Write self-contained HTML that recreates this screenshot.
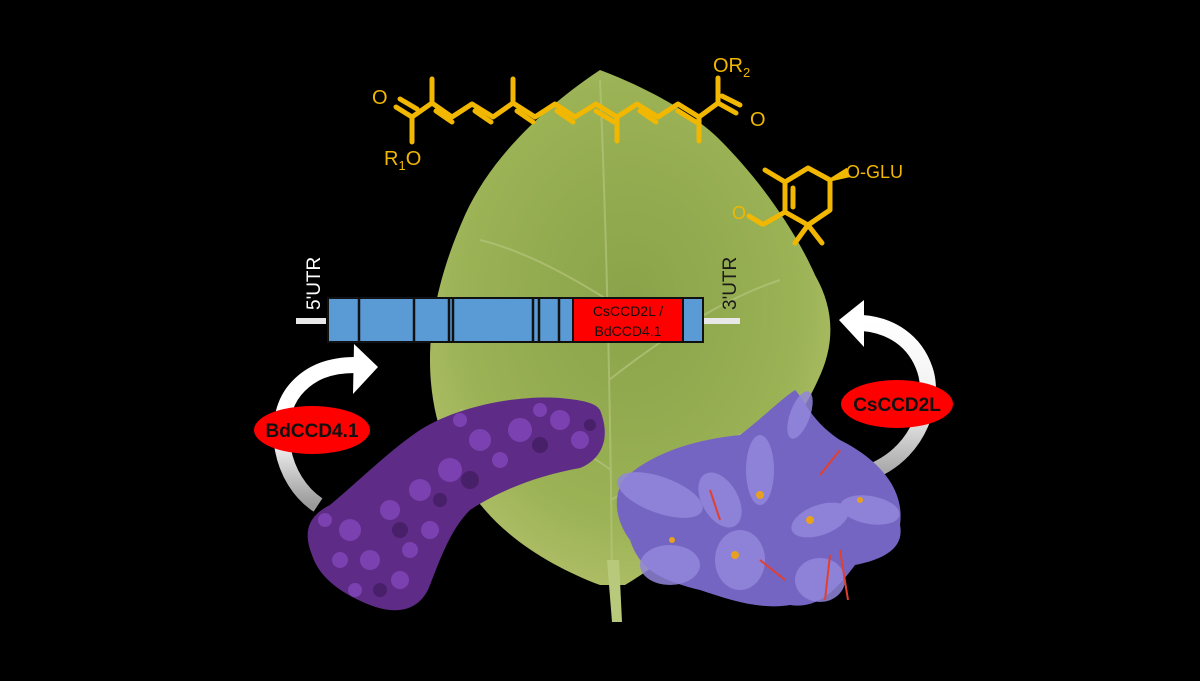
<!DOCTYPE html>
<html><head><meta charset="utf-8"><style>
html,body{margin:0;padding:0;background:#000;}
svg{display:block;}
text{font-family:"Liberation Sans",sans-serif;}
</style></head><body>
<svg width="1200" height="681" viewBox="0 0 1200 681" xmlns="http://www.w3.org/2000/svg">
<defs>
<radialGradient id="leaf" cx="0.5" cy="0.45" r="0.6">
<stop offset="0" stop-color="#8aa34a"/><stop offset="0.7" stop-color="#9bb255"/><stop offset="1" stop-color="#b2c06a"/>
</radialGradient>
<linearGradient id="arrL" x1="0" y1="1" x2="0" y2="0"><stop offset="0" stop-color="#9a9a9a"/><stop offset="0.5" stop-color="#fff"/><stop offset="1" stop-color="#fff"/></linearGradient>
<linearGradient id="arrR" x1="0" y1="1" x2="0" y2="0"><stop offset="0" stop-color="#aaa"/><stop offset="0.4" stop-color="#eee"/><stop offset="1" stop-color="#fff"/></linearGradient>
</defs>
<rect width="1200" height="681" fill="#000"/>

<!-- leaf -->
<path d="M600,70 C640,85 690,110 720,140 C760,180 795,230 815,275 C835,310 835,345 818,380 C800,420 765,470 720,510 C685,545 650,570 625,585 L600,585 C560,570 515,545 485,510 C450,470 430,420 430,360 C430,310 445,260 465,215 C490,160 540,110 600,70 Z" fill="url(#leaf)"/>
<g stroke="#b4c57c" stroke-width="2" fill="none" opacity="0.7">
<path d="M600,80 C605,200 610,350 612,580"/>
<path d="M608,300 C560,270 520,250 480,240"/>
<path d="M609,380 C660,340 720,300 780,280"/>
<path d="M611,470 C570,440 520,420 460,410"/>
<path d="M611,500 C660,470 720,440 780,420"/>
</g>
<path d="M607,560 L612,622 L622,622 L619,560 Z" fill="#b8c97c"/>

<!-- gene construct -->
<rect x="296" y="318" width="30" height="6" fill="#e8e8e8"/>
<rect x="702" y="318" width="38" height="6" fill="#e8e8e8"/>
<rect x="328" y="298" width="375" height="44" fill="#5b9bd5" stroke="#111" stroke-width="2"/>
<g stroke="#111" stroke-width="2.5">
<line x1="359" y1="298" x2="359" y2="342"/>
<line x1="414" y1="298" x2="414" y2="342"/>
<line x1="449" y1="298" x2="449" y2="342"/>
<line x1="453" y1="298" x2="453" y2="342"/>
<line x1="533" y1="298" x2="533" y2="342"/>
<line x1="539" y1="298" x2="539" y2="342"/>
<line x1="559" y1="298" x2="559" y2="342"/>
</g>
<rect x="573" y="298" width="110" height="44" fill="#ff0000" stroke="#111" stroke-width="2"/>
<text x="628" y="316" font-size="14" text-anchor="middle" fill="#111">CsCCD2L /</text>
<text x="628" y="336" font-size="14" text-anchor="middle" fill="#111">BdCCD4.1</text>
<text transform="translate(320,310) rotate(-90)" font-size="19" fill="#fff">5'UTR</text>
<text transform="translate(736,310) rotate(-90)" font-size="19" fill="#1a1a1a">3'UTR</text>

<!-- polyene chain -->
<g stroke="#f2b700" stroke-width="5" fill="none" stroke-linecap="round" stroke-linejoin="round">
<polyline points="412,117 432,103 452,117 472,104 493,117 513,103 535,117 555,104 575,117 596,104 617,117 637,104 658,117 678,104 699,117 718,103"/>
<line x1="432" y1="103" x2="432" y2="79"/>
<line x1="513" y1="103" x2="513" y2="79"/>
<line x1="617" y1="117" x2="617" y2="141"/>
<line x1="699" y1="117" x2="699" y2="141"/>
<line x1="412" y1="117" x2="412" y2="142"/>
<line x1="412" y1="117" x2="396" y2="107"/>
<line x1="417" y1="109" x2="400" y2="99"/>
<line x1="718" y1="103" x2="718" y2="78"/>
<line x1="718" y1="103" x2="736" y2="113"/>
<line x1="722" y1="96" x2="740" y2="105"/>
<line x1="436" y1="111" x2="452" y2="122"/>
<line x1="475" y1="111" x2="491" y2="122"/>
<line x1="517" y1="111" x2="533" y2="122"/>
<line x1="557" y1="111" x2="573" y2="122"/>
<line x1="596" y1="111" x2="614" y2="122"/>
<line x1="640" y1="111" x2="656" y2="122"/>
<line x1="678" y1="111" x2="696" y2="122"/>
</g>
<g fill="#f2b700" font-size="20">
<text x="372" y="104">O</text>
<text x="384" y="165">R<tspan font-size="13" dy="5">1</tspan><tspan dy="-5">O</tspan></text>
<text x="713" y="72">OR<tspan font-size="13" dy="5">2</tspan></text>
<text x="750" y="126">O</text>
<text x="846" y="178" font-size="18">O-GLU</text>
<text x="732" y="219" font-size="18">O</text>
</g>
<g stroke="#f2b700" stroke-width="5" fill="none" stroke-linecap="round" stroke-linejoin="round">
<polygon points="785,182 808,168 830,180 830,210 808,225 785,212"/>
<line x1="793" y1="188" x2="793" y2="207"/>
<line x1="785" y1="182" x2="765" y2="170"/>
<line x1="785" y1="212" x2="764" y2="224"/>
<line x1="762" y1="224" x2="749" y2="216"/>
<line x1="808" y1="225" x2="795" y2="243"/>
<line x1="808" y1="225" x2="822" y2="243"/>
</g>
<polygon points="830,180 846,170 848,176" fill="#f2b700" stroke="#f2b700" stroke-width="3"/>

<!-- left arrow -->
<path d="M318,505 C280,480 270,420 295,390 C310,372 330,365 355,365" fill="none" stroke="url(#arrL)" stroke-width="16"/>
<polygon points="354,344 378,367 353,394" fill="#fff"/>
<!-- right arrow -->
<path d="M875,470 C920,450 935,400 925,370 C915,340 890,325 862,323" fill="none" stroke="url(#arrR)" stroke-width="16"/>
<polygon points="864,300 839,320 864,347" fill="#fff"/>

<!-- buddleja -->
<path d="M600,410 C612,440 600,460 580,468 C540,475 500,490 470,510 C450,530 440,560 430,585 C420,612 395,615 370,605 C345,595 320,580 312,555 C302,530 310,515 330,505 C360,480 390,450 420,430 C460,405 520,395 560,398 C580,400 595,402 600,410 Z" fill="#5e2c86"/>
<g fill="#8548be" opacity="0.75">
<circle cx="560" cy="420" r="10"/><circle cx="520" cy="430" r="12"/><circle cx="480" cy="440" r="11"/>
<circle cx="450" cy="470" r="12"/><circle cx="420" cy="490" r="11"/><circle cx="390" cy="510" r="10"/>
<circle cx="350" cy="530" r="11"/><circle cx="370" cy="560" r="10"/><circle cx="400" cy="580" r="9"/>
<circle cx="580" cy="440" r="9"/><circle cx="500" cy="460" r="8"/><circle cx="430" cy="530" r="9"/>
<circle cx="340" cy="560" r="8"/><circle cx="410" cy="550" r="8"/><circle cx="540" cy="410" r="7"/>
<circle cx="460" cy="420" r="7"/><circle cx="325" cy="520" r="7"/><circle cx="355" cy="590" r="7"/>
</g>
<g fill="#3f1a5e" opacity="0.7">
<circle cx="540" cy="445" r="8"/><circle cx="470" cy="480" r="9"/><circle cx="400" cy="530" r="8"/>
<circle cx="380" cy="590" r="7"/><circle cx="590" cy="425" r="6"/><circle cx="440" cy="500" r="7"/>
</g>

<!-- saffron -->
<path d="M795,390 C805,400 810,420 840,440 C880,460 905,490 900,525 C905,550 880,560 855,565 C840,585 820,610 790,605 C760,610 730,600 700,590 C660,580 640,570 630,540 C615,520 612,495 625,478 C650,455 690,440 740,435 C760,420 780,400 795,390 Z" fill="#7565c2"/>
<g fill="#9286dc" opacity="0.85">
<ellipse cx="660" cy="495" rx="45" ry="18" transform="rotate(20 660 495)"/>
<ellipse cx="760" cy="470" rx="14" ry="35"/>
<ellipse cx="720" cy="500" rx="18" ry="30" transform="rotate(-30 720 500)"/>
<ellipse cx="800" cy="415" rx="10" ry="25" transform="rotate(20 800 415)"/>
<ellipse cx="820" cy="520" rx="30" ry="15" transform="rotate(-20 820 520)"/>
<ellipse cx="870" cy="510" rx="30" ry="14" transform="rotate(10 870 510)"/>
<ellipse cx="740" cy="560" rx="25" ry="30"/>
<ellipse cx="820" cy="580" rx="25" ry="22"/>
<ellipse cx="670" cy="565" rx="30" ry="20"/>
</g>
<g stroke="#e04030" stroke-width="2" fill="none">
<path d="M710,490 L720,520"/><path d="M820,475 L840,450"/><path d="M840,550 L848,600"/><path d="M830,555 L825,600"/><path d="M760,560 L785,580"/>
</g>
<g fill="#e8a020">
<circle cx="760" cy="495" r="4"/><circle cx="810" cy="520" r="4"/><circle cx="735" cy="555" r="4"/><circle cx="860" cy="500" r="3"/><circle cx="672" cy="540" r="3"/>
</g>

<!-- labels -->
<ellipse cx="312" cy="430" rx="58" ry="24" fill="#ff0000"/>
<text x="312" y="437" font-size="19" font-weight="bold" text-anchor="middle" fill="#111">BdCCD4.1</text>
<ellipse cx="897" cy="404" rx="56" ry="24" fill="#ff0000"/>
<text x="897" y="411" font-size="19" font-weight="bold" text-anchor="middle" fill="#111">CsCCD2L</text>
</svg>
</body></html>
